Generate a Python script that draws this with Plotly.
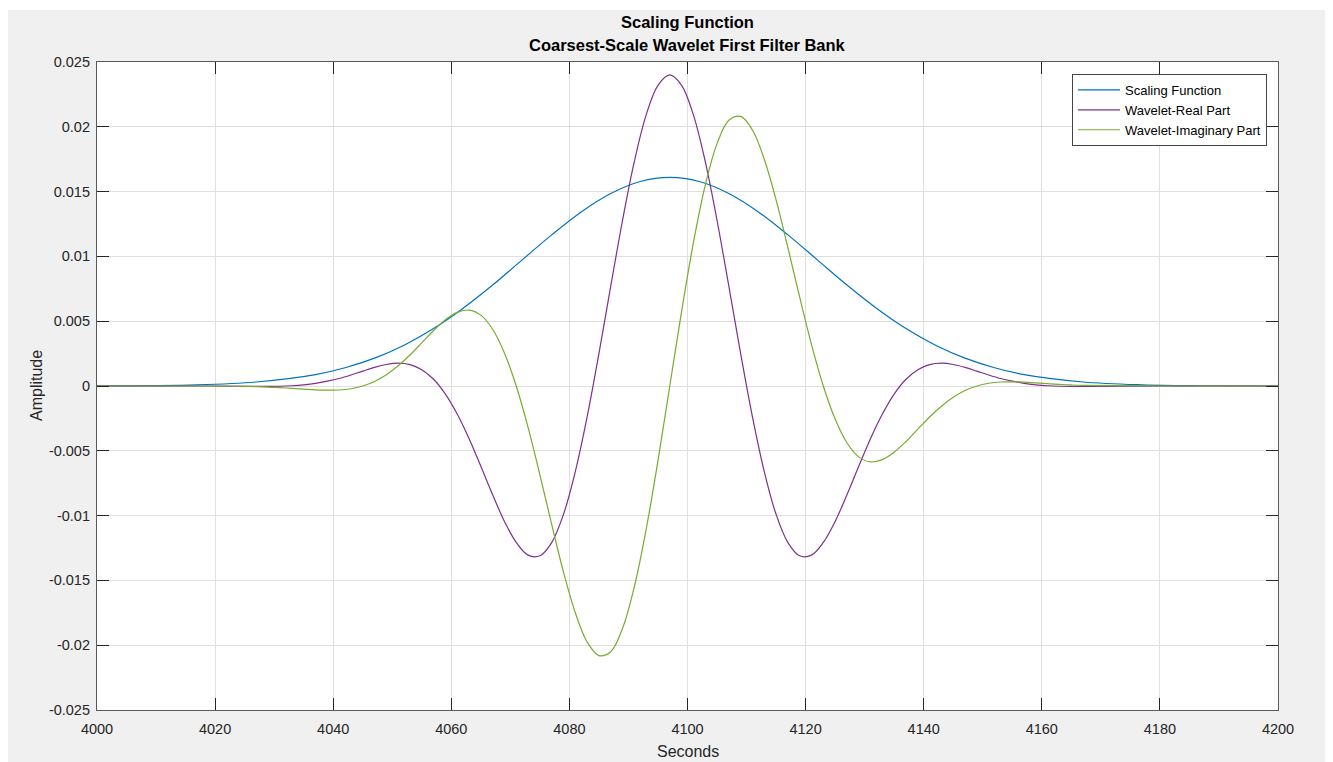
import plotly.graph_objects as go

# ---------------- data ----------------
scaling_x = [4000, 4017, 4027, 4037, 4042, 4047, 4052, 4057, 4062, 4067, 4072, 4077,
             4082, 4087, 4092, 4097, 4102, 4107, 4112, 4117, 4122, 4127, 4132, 4137,
             4142, 4147, 4152, 4157, 4167, 4177, 4187, 4200]
scaling_y = [0.00001, 0.00009, 0.00031, 0.00088, 0.00141, 0.00215, 0.00315, 0.00443,
             0.00600, 0.00779, 0.00973, 0.01166, 0.01343, 0.01485, 0.01578, 0.01610,
             0.01578, 0.01485, 0.01343, 0.01166, 0.00973, 0.00779, 0.00600, 0.00443,
             0.00315, 0.00215, 0.00141, 0.00088, 0.00031, 0.00009, 0.00002, 0.00000]

wavelet_x = [4000, 4020,
             4027, 4029, 4031, 4033, 4035, 4037, 4039, 4041, 4043, 4045, 4047, 4049,
             4051, 4053, 4055, 4057, 4059, 4061, 4063, 4065, 4067, 4069, 4071, 4073,
             4075, 4077, 4079, 4081, 4083, 4085, 4087, 4089, 4091, 4093, 4095, 4097,
             4099, 4101, 4103, 4105, 4107, 4109, 4111, 4113, 4115, 4117, 4119, 4121,
             4123, 4125, 4127, 4129, 4131, 4133, 4135, 4137, 4139, 4141, 4143, 4145,
             4147, 4149, 4151, 4153, 4155, 4157, 4159, 4161, 4163, 4165, 4167,
             4180, 4200]

wavelet_real = [0.0, 0.0,
                -0.00003, -0.00003, -0.00002, 0.00002, 0.00009, 0.00020, 0.00037, 0.00058,
                0.00085, 0.00115, 0.00144, 0.00166, 0.00176, 0.00165, 0.00126, 0.00052,
                -0.00062, -0.00216, -0.00405, -0.00620, -0.00840, -0.01045, -0.01207,
                -0.01305, -0.01310, -0.01208, -0.00990, -0.00660, -0.00238, 0.00250,
                0.00770, 0.01279, 0.01733, 0.02092, 0.02320, 0.02400,
                0.02320, 0.02092, 0.01733, 0.01279, 0.00770, 0.00250, -0.00238, -0.00660,
                -0.00990, -0.01208, -0.01310, -0.01305, -0.01207, -0.01045, -0.00840,
                -0.00620, -0.00405, -0.00216, -0.00062, 0.00052, 0.00126, 0.00165,
                0.00176, 0.00166, 0.00144, 0.00115, 0.00085, 0.00058, 0.00037, 0.00020,
                0.00009, 0.00002, -0.00002, -0.00003, -0.00003,
                0.0, 0.0]

wavelet_imag = [0.0, 0.0,
                -0.00005, -0.00008, -0.00013, -0.00018, -0.00024, -0.00030, -0.00032,
                -0.00031, -0.00021, 0.00000, 0.00035, 0.00087, 0.00156, 0.00239, 0.00333,
                0.00428, 0.00511, 0.00568, 0.00586, 0.00547, 0.00438, 0.00255, 0.00000,
                -0.00320, -0.00685, -0.01068, -0.01436, -0.01750, -0.01975, -0.02080,
                -0.02050, -0.01870, -0.01548, -0.01106, -0.00576, 0.00000,
                0.00576, 0.01106, 0.01548, 0.01870, 0.02050, 0.02080, 0.01975, 0.01750,
                0.01436, 0.01068, 0.00685, 0.00320, 0.00000, -0.00255, -0.00438, -0.00547,
                -0.00586, -0.00568, -0.00511, -0.00428, -0.00333, -0.00239, -0.00156,
                -0.00087, -0.00035, 0.00000, 0.00021, 0.00031, 0.00032, 0.00030, 0.00024,
                0.00018, 0.00013, 0.00008, 0.00005,
                0.0, 0.0]

x_tick_vals = [4000, 4020, 4040, 4060, 4080, 4100, 4120, 4140, 4160, 4180, 4200]
x_tick_text = ["4000", "4020", "4040", "4060", "4080", "4100", "4120", "4140", "4160", "4180", "4200"]
y_tick_vals = [0.025, 0.02, 0.015, 0.01, 0.005, 0.0, -0.005, -0.01, -0.015, -0.02, -0.025]
y_tick_text = ["0.025", "0.02", "0.015", "0.01", "0.005", "0", "-0.005", "-0.01", "-0.015", "-0.02", "-0.025"]

series_names = ["Scaling Function", "Wavelet-Real Part", "Wavelet-Imaginary Part"]
title_lines = ["Scaling Function", "Coarsest-Scale Wavelet First Filter Bank"]

# ---------------- figure ----------------
FONT = "Liberation Sans, Arial, Helvetica, sans-serif"
TXT = "#262626"
OFF = 8                      # page body margin of the html page
W, H = 1333 - OFF, 762 - OFF
L, R, T, B = 97 - OFF, 55, 62 - OFF, 52
PW, PH = W - L - R, H - T - B

fig = go.Figure()
fig.add_trace(go.Scatter(x=scaling_x, y=scaling_y, name=series_names[0], mode="lines",
                         line=dict(color="#0072BD", width=1.2, shape="spline", smoothing=1.0)))
fig.add_trace(go.Scatter(x=wavelet_x, y=wavelet_real, name=series_names[1], mode="lines",
                         line=dict(color="#7E2F8E", width=1.2, shape="spline", smoothing=1.0)))
fig.add_trace(go.Scatter(x=wavelet_x, y=wavelet_imag, name=series_names[2], mode="lines",
                         line=dict(color="#77AC30", width=1.2, shape="spline", smoothing=1.0)))

axis_common = dict(
    showline=True, linecolor="#5a5a5a", linewidth=1.2, mirror="ticks",
    ticks="inside", ticklen=12, tickwidth=1, tickcolor="#262626",
    showgrid=True, gridcolor="#dfdfdf", gridwidth=1, zeroline=False,
    tickfont=dict(family=FONT, size=14.5, color=TXT),
)

fig.update_xaxes(range=[4000, 4200], tickvals=x_tick_vals, ticktext=x_tick_text,
                 ticklabelstandoff=5, **axis_common)
fig.update_yaxes(range=[-0.025, 0.025], tickvals=y_tick_vals, ticktext=y_tick_text,
                 ticklabelstandoff=3, **axis_common)

# convert page pixel positions to paper coordinates
def px_x(p):
    return (p - OFF - L) / PW

def px_y(p):
    return 1 - (p - OFF - T) / PH

annotations = [
    dict(text="<b>%s</b>" % title_lines[0], x=0.5, y=px_y(22), xref="paper", yref="paper",
         showarrow=False, font=dict(family=FONT, size=16.5, color="#000000"), yanchor="middle"),
    dict(text="<b>%s</b>" % title_lines[1], x=0.5, y=px_y(45), xref="paper", yref="paper",
         showarrow=False, font=dict(family=FONT, size=16.5, color="#000000"), yanchor="middle"),
    dict(text="Seconds", x=0.5, y=px_y(751), xref="paper", yref="paper", showarrow=False,
         font=dict(family=FONT, size=16, color=TXT), yanchor="middle"),
    dict(text="Amplitude", x=px_x(36), y=0.5, xref="paper", yref="paper", showarrow=False,
         textangle=-90, font=dict(family=FONT, size=16, color=TXT), xanchor="center"),
]

shapes = [
    # thin white strip at the very top (grey starts ~10px down in the reference)
    dict(type="rect", xref="paper", yref="paper", x0=px_x(OFF), x1=px_x(1333), y0=px_y(10), y1=px_y(OFF),
         fillcolor="#ffffff", line=dict(width=0), layer="below"),
]

fig.update_layout(
    width=W, height=H, autosize=False,
    margin=dict(l=L, r=R, t=T, b=B, pad=0),
    paper_bgcolor="#f0f0f0", plot_bgcolor="#ffffff",
    font=dict(family=FONT, size=13, color=TXT),
    showlegend=True,
    legend=dict(x=px_x(1267), y=px_y(74), xanchor="right", yanchor="top",
                bgcolor="#ffffff", bordercolor="#444444", borderwidth=1,
                font=dict(family=FONT, size=13, color="#000000"),
                tracegroupgap=0, itemwidth=42),
    annotations=annotations,
    shapes=shapes,
)

fig.write_html("out.html")
